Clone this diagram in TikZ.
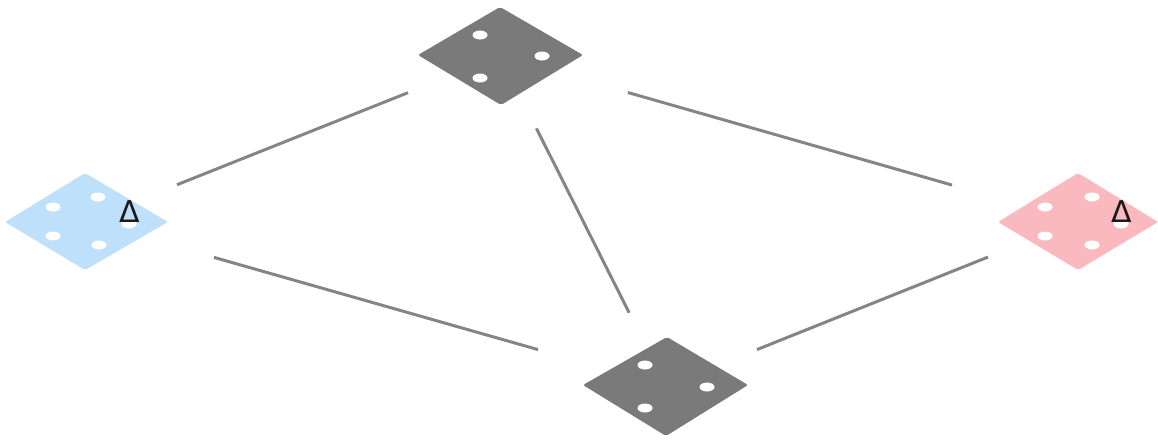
\documentclass[tikz,border=0pt]{standalone}
\usepackage{fontspec}
\newfontfamily\symfont{DejaVu Sans}
\definecolor{tilegray}{HTML}{7A7A7A}
\definecolor{linegray}{HTML}{858585}
\definecolor{tileblue}{HTML}{BFE0FA}
\definecolor{tilepink}{HTML}{F9B9BF}
\tikzset{
  tile/.style={rounded corners=2pt, draw=none},
  hole/.style={fill=white, draw=none},
  link/.style={draw=linegray, line width=3pt},
  deltamark/.style={inner sep=0pt, font=\symfont\fontsize{30}{30}\selectfont, text=black!90}
}
\begin{document}
\begin{tikzpicture}[x=1pt,y=-1pt]
\useasboundingbox (0,0) rectangle (1158,440);
% centres
\coordinate (top) at (500,56);
\coordinate (bot) at (666,386);
\coordinate (blue) at (86,221);
\coordinate (red) at (1078,221);
% tiles
\fill[tile, tilegray] (418,55) -- (500,7) -- (583,55) -- (501,105) -- cycle;
\fill[hole] (480,35) ellipse (7.5 and 4.5);
\fill[hole] (542,56) ellipse (7.5 and 4.5);
\fill[hole] (480,78) ellipse (7.5 and 4.5);

\fill[tile, tilegray] (583,385) -- (667,337) -- (748,385) -- (666,436) -- cycle;
\fill[hole] (645,365) ellipse (7.5 and 4.5);
\fill[hole] (707,387) ellipse (7.5 and 4.5);
\fill[hole] (645,408) ellipse (7.5 and 4.5);

\fill[tile, tileblue] (5,222) -- (85,173) -- (168,222) -- (85,270) -- cycle;
\fill[hole] (53,207) ellipse (7.5 and 4.5);
\fill[hole] (98,197) ellipse (7.5 and 4.5);
\fill[hole] (53,236) ellipse (7.5 and 4.5);
\fill[hole] (99,245) ellipse (7.5 and 4.5);
\fill[hole] (129,224) ellipse (7.5 and 4.5);
\node[deltamark] (dblue) at (129.5,212) {Δ};

\fill[tile, tilepink] (998,222) -- (1078,173) -- (1158,222) -- (1078,270) -- cycle;
\fill[hole] (1045,207) ellipse (7.5 and 4.5);
\fill[hole] (1092,197) ellipse (7.5 and 4.5);
\fill[hole] (1045,236) ellipse (7.5 and 4.5);
\fill[hole] (1092,245) ellipse (7.5 and 4.5);
\fill[hole] (1121,224) ellipse (7.5 and 4.5);
\node[deltamark] (dred) at (1121.5,212) {Δ};
% links
\draw[link, shorten <=98pt, shorten >=99pt] (blue) -- (top);
\draw[link, shorten <=133pt, shorten >=131pt] (top) -- (red);
\draw[link, shorten <=81pt, shorten >=82pt] (top) -- (bot);
\draw[link, shorten <=133pt, shorten >=133pt] (blue) -- (bot);
\draw[link, shorten <=98pt, shorten >=97pt] (bot) -- (red);
\end{tikzpicture}
\end{document}
